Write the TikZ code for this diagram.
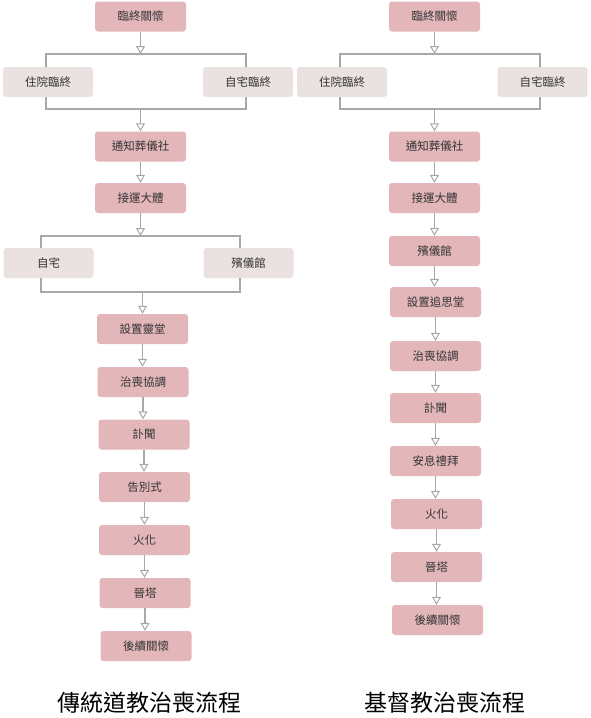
\documentclass[tikz,border=0pt]{standalone}
\usepackage{fontspec}
\newfontfamily\cjk{Noto Sans CJK TC}
\usetikzlibrary{arrows.meta}
\definecolor{pinkbox}{HTML}{E3B6BA}
\definecolor{graybox}{HTML}{EAE2E0}
\definecolor{linegray}{HTML}{A8A8A8}
\definecolor{txt}{HTML}{333333}
\pgfdeclarelayer{bg}
\pgfsetlayers{bg,main}
\tikzset{
  box/.style={rounded corners=3pt, minimum width=91pt, minimum height=30pt, inner sep=0pt,
    font=\cjk\fontsize{11.5}{13}\selectfont, text=txt},
  pinknode/.style={box, fill=pinkbox},
  graynode/.style={box, fill=graybox, minimum width=90pt},
  conn/.style={draw=linegray, line width=#1},
  conn/.default=1.8pt,
  arr/.style={conn=#1, -{Triangle[open, width=9pt, length=8pt, line width=1pt, fill=white]}},
  arr/.default=1.8pt,
  title/.style={font=\cjk\fontsize{23}{26}\selectfont, text=black}
}
\begin{document}
\begin{tikzpicture}[x=1pt,y=-1pt]
\useasboundingbox (0,0) rectangle (590,718);
% ---------- left column ----------
\node[pinknode] (L1) at (140.5,16.5) {臨終關懷};
\node[graynode] (L2a) at (48,82) {住院臨終};
\node[graynode] (L2b) at (248,82) {自宅臨終};
\node[pinknode] (L3) at (140.5,146.5) {通知葬儀社};
\node[pinknode] (L4) at (140.5,198) {接運大體};
\node[graynode] (L5a) at (48.5,263) {自宅};
\node[graynode] (L5b) at (248.5,263) {殯儀館};
\node[pinknode] (L6) at (142.5,329) {設置靈堂};
\node[pinknode] (L7) at (143,382) {治喪協調};
\node[pinknode] (L8) at (144,434.5) {訃聞};
\node[pinknode] (L9) at (144.5,487) {告別式};
\node[pinknode] (L10) at (144.5,540) {火化};
\node[pinknode] (L11) at (145,593) {晉塔};
\node[pinknode] (L12) at (146,646) {後續關懷};
\coordinate (LjaL) at (46,54);
\coordinate (LjaR) at (246,54);
\coordinate (LjbL) at (46,109);
\coordinate (LjbR) at (246,109);
\coordinate (LjcL) at (41,236);
\coordinate (LjcR) at (240,236);
\coordinate (LjdL) at (41,292);
\coordinate (LjdR) at (240,292);
% ---------- right column ----------
\node[pinknode] (R1) at (434.5,16.5) {臨終關懷};
\node[graynode] (R2a) at (342,82) {住院臨終};
\node[graynode] (R2b) at (542.5,82) {自宅臨終};
\node[pinknode] (R3) at (434.5,146.5) {通知葬儀社};
\node[pinknode] (R4) at (434.5,198) {接運大體};
\node[pinknode] (R5) at (434.5,251) {殯儀館};
\node[pinknode] (R6) at (435.5,302) {設置追思堂};
\node[pinknode] (R7) at (435.5,356) {治喪協調};
\node[pinknode] (R8) at (435.5,408) {訃聞};
\node[pinknode] (R9) at (435.5,461) {安息禮拜};
\node[pinknode] (R10) at (436.5,514) {火化};
\node[pinknode] (R11) at (436.5,567) {晉塔};
\node[pinknode] (R12) at (437.5,620) {後續關懷};
\coordinate (RjaL) at (340,54);
\coordinate (RjaR) at (540,54);
\coordinate (RjbL) at (340,109);
\coordinate (RjbR) at (540,109);
% ---------- titles ----------
\node[title] (T1) at (149,703) {傳統道教治喪流程};
\node[title] (T2) at (445,703) {基督教治喪流程};
\begin{pgfonlayer}{bg}
% left connectors
\draw[arr] (L1.south) -- (L1.south |- LjaL);
\draw[conn] (LjbL) -- (LjaL) -- (LjaR) -- (LjbR) -- cycle;
\draw[arr] (L1.south |- LjbL) -- (L3.north);
\draw[arr] (L3.south) -- (L4.north);
\draw[arr] (L4.south) -- (L4.south |- LjcL);
\draw[conn] (LjdL) -- (LjcL) -- (LjcR) -- (LjdR) -- cycle;
\draw[arr] (L6.north |- LjdL) -- (L6.north);
\draw[arr] (L6.south) -- (L6.south |- L7.north);
\draw[arr] (L7.south) -- (L7.south |- L8.north);
\draw[arr] (L8.south) -- (L8.south |- L9.north);
\draw[arr] (L9.south) -- (L9.south |- L10.north);
\draw[arr] (L10.south) -- (L10.south |- L11.north);
\draw[arr] (L11.south) -- (L11.south |- L12.north);
% right connectors
\draw[arr=1.1pt] (R1.south) -- (R1.south |- RjaL);
\draw[conn=1.1pt] (RjbL) -- (RjaL) -- (RjaR) -- (RjbR) -- cycle;
\draw[arr=1.1pt] (R1.south |- RjbL) -- (R3.north);
\draw[arr=1.1pt] (R3.south) -- (R4.north);
\draw[arr=1.1pt] (R4.south) -- (R5.north);
\draw[arr=1.1pt] (R5.south) -- (R5.south |- R6.north);
\draw[arr=1.1pt] (R6.south) -- (R7.north);
\draw[arr=1.1pt] (R7.south) -- (R8.north);
\draw[arr=1.1pt] (R8.south) -- (R9.north);
\draw[arr=1.1pt] (R9.south) -- (R9.south |- R10.north);
\draw[arr=1.1pt] (R10.south) -- (R11.north);
\draw[arr=1.1pt] (R11.south) -- (R11.south |- R12.north);
\end{pgfonlayer}
\end{tikzpicture}
\end{document}
